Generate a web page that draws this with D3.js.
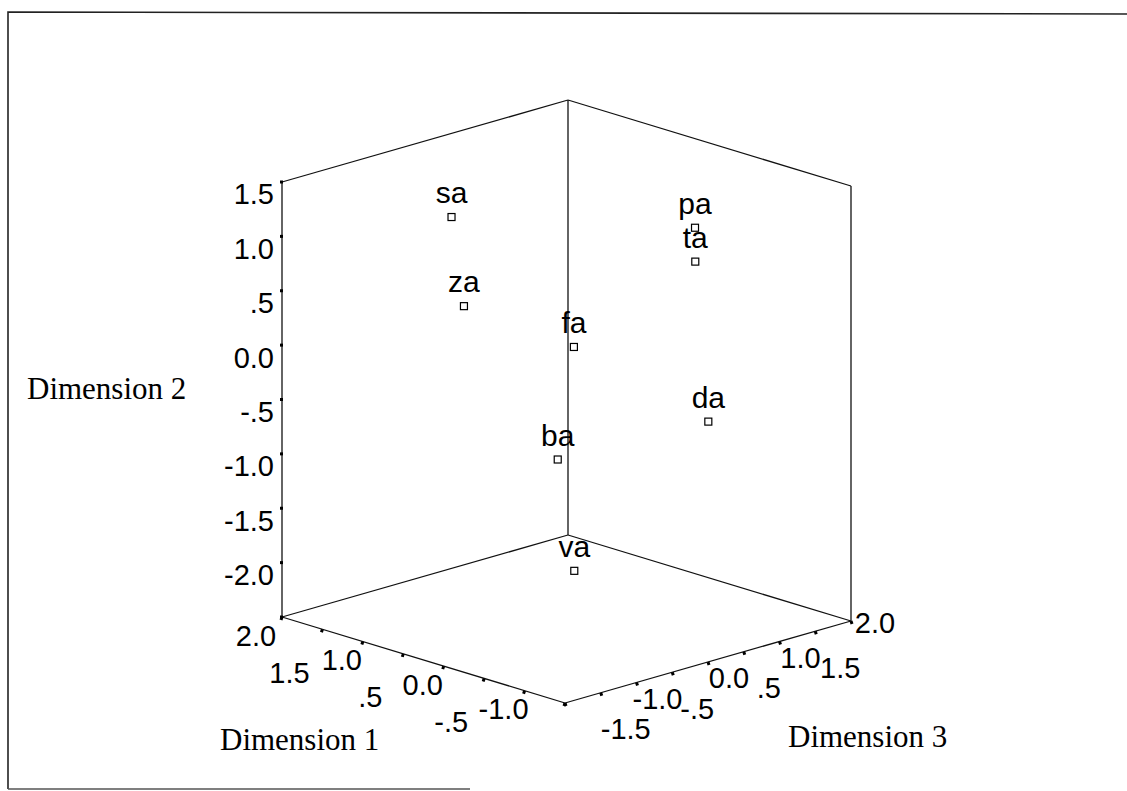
<!DOCTYPE html>
<html>
<head>
<meta charset="utf-8">
<script src="https://cdn.jsdelivr.net/npm/d3@7/dist/d3.min.js"></script>
<style>
  body { margin: 0; background: #fff; }
  svg { display: block; }
</style>
</head>
<body>
<svg id="chart"></svg>
<script>
var width = 1127;
var height = 791;

// stimulus labels and their coordinates on the three dimensions
const labels = ["sa", "za", "fa", "pa", "ta", "da", "ba", "va"];
const dim1 = [1.0, 1.2, 0.3, -0.8, -0.6, -1.0, 0.5, -0.2];
const dim2 = [1.17, 0.23, -0.04, 1.22, 0.82, -0.51, -1.12, -1.88];
const dim3 = [-0.76, -0.36, 0.16, 0.61, 0.84, 0.57, 0.16, -0.40];

const dim1Ticks = [2.0, 1.5, 1.0, 0.5, 0.0, -0.5, -1.0];
const dim2Ticks = [1.5, 1.0, 0.5, 0.0, -0.5, -1.0, -1.5, -2.0];
const dim3Ticks = [-1.5, -1.0, -0.5, 0.0, 0.5, 1.0, 1.5, 2.0];

const dim1Domain = [-1.5, 2.0];
const dim2Domain = [-2.5, 1.5];
const dim3Domain = [-2.0, 2.0];

var svg = d3.select("#chart").attr("width", width).attr("height", height);
svg.append("rect").attr("width", width).attr("height", height).attr("fill", "#fff");

// outer frame (scanned page border)
svg.append("path")
  .attr("d", "M8,789 L8,12 L1127,14")
  .attr("fill", "none").attr("stroke", "#222").attr("stroke-width", 1.6);
svg.append("line")
  .attr("x1", 8).attr("y1", 789).attr("x2", 470).attr("y2", 789)
  .attr("stroke", "#555").attr("stroke-width", 1.6);

// each dimension is scaled to 0..1 along its box edge
var s1 = d3.scaleLinear().domain(dim1Domain).range([0, 1]);
var s2 = d3.scaleLinear().domain(dim2Domain).range([0, 1]);
var s3 = d3.scaleLinear().domain(dim3Domain).range([0, 1]);

// oblique projection: front floor corner and the three edge vectors
var origin = [565, 703];
var e1 = [-283, -86];
var e3 = [286, -82];
var e2 = [0, -435];

function proj(a, b, c) {
  var t1 = s1(a), t2 = s2(b), t3 = s3(c);
  return [origin[0] + e1[0] * t1 + e3[0] * t3 + e2[0] * t2,
          origin[1] + e1[1] * t1 + e3[1] * t3 + e2[1] * t2];
}

// SPSS style: 0.0, .5, -.5, 1.0 with a plain hyphen
var fmt = function(d) {
  if (d === 0) return "0.0";
  var s = d3.format(".1f")(d).replace("\u2212", "-");
  return s.replace(/^(-?)0\./, "$1.");
};

var lo1 = dim1Domain[0], hi1 = dim1Domain[1];
var lo2 = dim2Domain[0], hi2 = dim2Domain[1];
var lo3 = dim3Domain[0], hi3 = dim3Domain[1];

var boxEdges = [
  // floor
  [[lo1, lo2, lo3], [hi1, lo2, lo3]],
  [[lo1, lo2, lo3], [lo1, lo2, hi3]],
  [[hi1, lo2, lo3], [hi1, lo2, hi3]],
  [[lo1, lo2, hi3], [hi1, lo2, hi3]],
  // verticals
  [[hi1, lo2, lo3], [hi1, hi2, lo3]],
  [[hi1, lo2, hi3], [hi1, hi2, hi3]],
  [[lo1, lo2, hi3], [lo1, hi2, hi3]],
  // top edges of the back walls
  [[hi1, hi2, lo3], [hi1, hi2, hi3]],
  [[hi1, hi2, hi3], [lo1, hi2, hi3]]
];

var box = svg.append("g");
boxEdges.forEach(function(edge) {
  var p = proj.apply(null, edge[0]), q = proj.apply(null, edge[1]);
  box.append("line")
    .attr("x1", p[0]).attr("y1", p[1]).attr("x2", q[0]).attr("y2", q[1])
    .attr("stroke", "#111").attr("stroke-width", 1.3);
});

var tickFont = "'Liberation Sans', Arial, sans-serif";

// Dimension 2 (vertical) ticks on the left edge
var yAxis = svg.append("g");
dim2Ticks.concat([lo2]).forEach(function(v) {
  var p = proj(hi1, v, lo3);
  yAxis.append("line")
    .attr("x1", p[0] - 2).attr("y1", p[1]).attr("x2", p[0] + 1).attr("y2", p[1])
    .attr("stroke", "#000").attr("stroke-width", 3);
});
dim2Ticks.forEach(function(v) {
  var p = proj(hi1, v, lo3);
  yAxis.append("text")
    .attr("x", p[0] - 8).attr("y", p[1] + 12).attr("dy", "0.36em")
    .attr("text-anchor", "end")
    .style("font-family", tickFont).style("font-size", "29px")
    .text(fmt(v));
});

// Dimension 1 ticks along the front-left floor edge
var xAxis = svg.append("g");
d3.range(lo1, hi1 + 0.01, 0.5).forEach(function(v) {
  var p = proj(v, lo2, lo3);
  xAxis.append("line")
    .attr("x1", p[0]).attr("y1", p[1]).attr("x2", p[0] - 1).attr("y2", p[1] + 3)
    .attr("stroke", "#000").attr("stroke-width", 3);
});
dim1Ticks.forEach(function(v, i) {
  var p = proj(v, lo2, lo3);
  var off = i % 2 === 0 ? [-21, 18] : [-33, 43];
  if (i === 0) off = [-26, 19];
  xAxis.append("text")
    .attr("x", p[0] + off[0]).attr("y", p[1] + off[1]).attr("dy", "0.36em")
    .attr("text-anchor", "middle")
    .style("font-family", tickFont).style("font-size", "29px")
    .text(fmt(v));
});

// Dimension 3 ticks along the front-right floor edge
var zAxis = svg.append("g");
d3.range(lo3, hi3 + 0.01, 0.5).forEach(function(v) {
  var p = proj(lo1, lo2, v);
  zAxis.append("line")
    .attr("x1", p[0]).attr("y1", p[1]).attr("x2", p[0] + 1).attr("y2", p[1] + 3)
    .attr("stroke", "#000").attr("stroke-width", 3);
});
dim3Ticks.forEach(function(v, i) {
  var p = proj(lo1, lo2, v);
  var off = i % 2 === 0 ? [25, 36] : [21, 16];
  if (i === dim3Ticks.length - 1) off = [24, 2];
  zAxis.append("text")
    .attr("x", p[0] + off[0]).attr("y", p[1] + off[1]).attr("dy", "0.36em")
    .attr("text-anchor", "middle")
    .style("font-family", tickFont).style("font-size", "29px")
    .text(fmt(v));
});

// axis titles
var titleFont = "'Liberation Serif', 'Times New Roman', serif";
[["Dimension 2", 27, 399], ["Dimension 1", 220, 750], ["Dimension 3", 788, 747]].forEach(function(t) {
  svg.append("text")
    .attr("x", t[1]).attr("y", t[2])
    .style("font-family", titleFont).style("font-size", "31px")
    .text(t[0]);
});

// points
var pts = labels.map(function(name, i) {
  var p = proj(dim1[i], dim2[i], dim3[i]);
  return { name: name, x: p[0], y: p[1] };
});

var marks = svg.append("g");
marks.selectAll("rect")
  .data(pts)
  .enter().append("rect")
  .attr("x", d => d.x - 3.5).attr("y", d => d.y - 3.5)
  .attr("width", 7).attr("height", 7)
  .attr("fill", "#fff").attr("stroke", "#000").attr("stroke-width", 1.2);

marks.selectAll("text")
  .data(pts)
  .enter().append("text")
  .attr("x", d => d.x).attr("y", d => d.y - 14)
  .attr("text-anchor", "middle")
  .style("font-family", tickFont).style("font-size", "30px")
  .text(d => d.name);
</script>
</body>
</html>
